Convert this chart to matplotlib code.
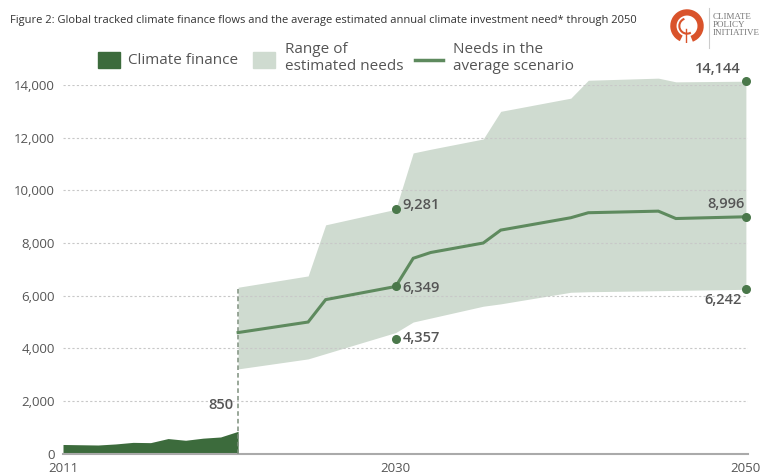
import matplotlib
matplotlib.use("Agg")
import matplotlib.pyplot as plt
import numpy as np
from matplotlib.patches import Rectangle, Arc
from matplotlib.lines import Line2D

# tracked climate finance (USD bn)
finance_years = [2011, 2012, 2013, 2014, 2015, 2016, 2017, 2018, 2019, 2020, 2021]
finance_vals = [350, 340, 330, 370, 430, 420, 575, 510, 590, 635, 850]

# estimated needs through 2050
needs_years = [2021, 2025, 2026, 2030, 2031, 2032, 2035, 2036, 2040, 2041, 2045, 2046, 2050]
needs_high = [6320, 6750, 8690, 9281, 11420, 11560, 11950, 13000, 13500, 14180, 14260, 14120, 14144]
needs_avg = [4600, 5000, 5850, 6349, 7420, 7640, 8000, 8490, 8960, 9150, 9210, 8930, 8996]
needs_low = [3220, 3600, 3800, 4600, 5000, 5150, 5600, 5690, 6130, 6150, 6190, 6200, 6242]

# labelled points
label_years = [2030, 2030, 2030, 2050, 2050, 2050]
label_vals = [9281, 6349, 4357, 14144, 8996, 6242]
label_offsets = [(5, 3), (5, -1), (5, 1), (-4, 9), (-1, 9), (-3, -8)]
label_ha = ["left", "left", "left", "right", "right", "right"]

yticks = [0, 2000, 4000, 6000, 8000, 10000, 12000, 14000]
xticks = [2011, 2030, 2050]

DARK = "#3c6b3c"
LIGHT = "#cfdbd0"
MID = "#5e8a5e"
DOT = "#4a784a"
TXT = "#555555"

plt.rcParams["font.family"] = ["Open Sans", "DejaVu Sans"]

W, H = 763, 475
fig = plt.figure(figsize=(W / 100, H / 100), dpi=100)

def fx(px):
    return px / W

def fy(py):
    return 1 - py / H

ax = fig.add_axes([fx(63), fy(453.7), fx(748) - fx(63), fy(85) - fy(453.7)])
ax.set_xlim(2011, 2011 + (748 - 63) / 17.51)
ax.set_ylim(0, 14000)

ax.fill_between(needs_years, needs_low, needs_high, color=LIGHT, lw=0, zorder=1, clip_on=False)
ax.fill_between(finance_years, 0, finance_vals, color=DARK, lw=0, zorder=2)
ax.plot(needs_years, needs_avg, color=MID, lw=2.2, zorder=4, solid_joinstyle="miter")
ax.plot([needs_years[0], needs_years[0]], [0, needs_high[0]], color="#7d8f7d",
        lw=1.1, ls=(0, (3, 2)), zorder=3)

ax.scatter(label_years, label_vals, s=30, color=DOT, zorder=5, clip_on=False)
for yr, v, off, ha in zip(label_years, label_vals, label_offsets, label_ha):
    ax.annotate(f"{v:,}", (yr, v), xytext=off, textcoords="offset points",
                ha=ha, va="center", fontsize=10.5, color=TXT, fontweight="semibold",
                annotation_clip=False)
ax.annotate(f"{finance_vals[-1]:,}", (finance_years[-1], finance_vals[-1]), xytext=(-3, 19),
            textcoords="offset points", ha="right", va="center", fontsize=10.5,
            color=TXT, fontweight="semibold", annotation_clip=False)

ax.set_yticks(yticks)
ax.set_yticklabels([f"{v:,}" for v in yticks])
ax.set_xticks(xticks)
ax.tick_params(length=0, labelsize=9.5, labelcolor=TXT)
ax.tick_params(axis="y", pad=6)
ax.tick_params(axis="x", pad=6)
ax.set_axisbelow(False)
ax.yaxis.grid(True, color="#c8c8c8", lw=0.8, ls=(0, (2, 2)), zorder=2.5)
for s in ["top", "right", "left"]:
    ax.spines[s].set_visible(False)
ax.spines["bottom"].set_color("#aaaaaa")
ax.spines["bottom"].set_linewidth(1.5)
ax.spines["bottom"].set_zorder(2.6)
# hide grid line at 0
ax.yaxis.get_gridlines()[0].set_visible(False)

# title
fig.text(fx(10), fy(21), "Figure 2: Global tracked climate finance flows and the average estimated "
         "annual climate investment need* through 2050",
         fontsize=8.0, color="#333333", ha="left", va="center")

# legend
fig.patches.append(Rectangle((fx(98), fy(68)), fx(22), fy(52) - fy(68), color=DARK,
                             transform=fig.transFigure, figure=fig))
fig.text(fx(128), fy(60), "Climate finance", fontsize=11, color=TXT, ha="left", va="center")
fig.patches.append(Rectangle((fx(253), fy(68)), fx(22), fy(52) - fy(68), color=LIGHT,
                             transform=fig.transFigure, figure=fig))
fig.text(fx(285), fy(58), "Range of\nestimated needs", fontsize=11, color=TXT, ha="left",
         va="center", linespacing=1.1)
fig.lines.append(Line2D([fx(415), fx(443)], [fy(60), fy(60)], color=MID, lw=2.5,
                        transform=fig.transFigure, figure=fig))
fig.text(fx(453), fy(58), "Needs in the\naverage scenario", fontsize=11, color=TXT, ha="left",
         va="center", linespacing=1.1)

# logo
lax = fig.add_axes([fx(670), fy(43), fx(34), fy(9) - fy(43)])
lax.set_xlim(-1, 1)
lax.set_ylim(-1, 1)
lax.set_aspect("equal")
lax.axis("off")
lax.add_patch(Arc((0, 0), 1.6, 1.6, theta1=-70, theta2=245, color="#d9532b", lw=4.5))
lax.add_patch(Arc((0, 0), 0.9, 0.9, theta1=110, theta2=300, color="#d9532b", lw=1.5))
lax.plot([-0.05, -0.05], [-0.95, -0.2], color="#d9532b", lw=1)
fig.lines.append(Line2D([fx(709), fx(709)], [fy(8), fy(48)], color="#cccccc", lw=0.8,
                        transform=fig.transFigure, figure=fig))
fig.text(fx(713), fy(25), "CLIMATE\nPOLICY\nINITIATIVE", family=["Liberation Serif"],
         fontsize=6.5, color="#777777", ha="left", va="center", linespacing=0.95)

fig.savefig("out.png", dpi=100)
